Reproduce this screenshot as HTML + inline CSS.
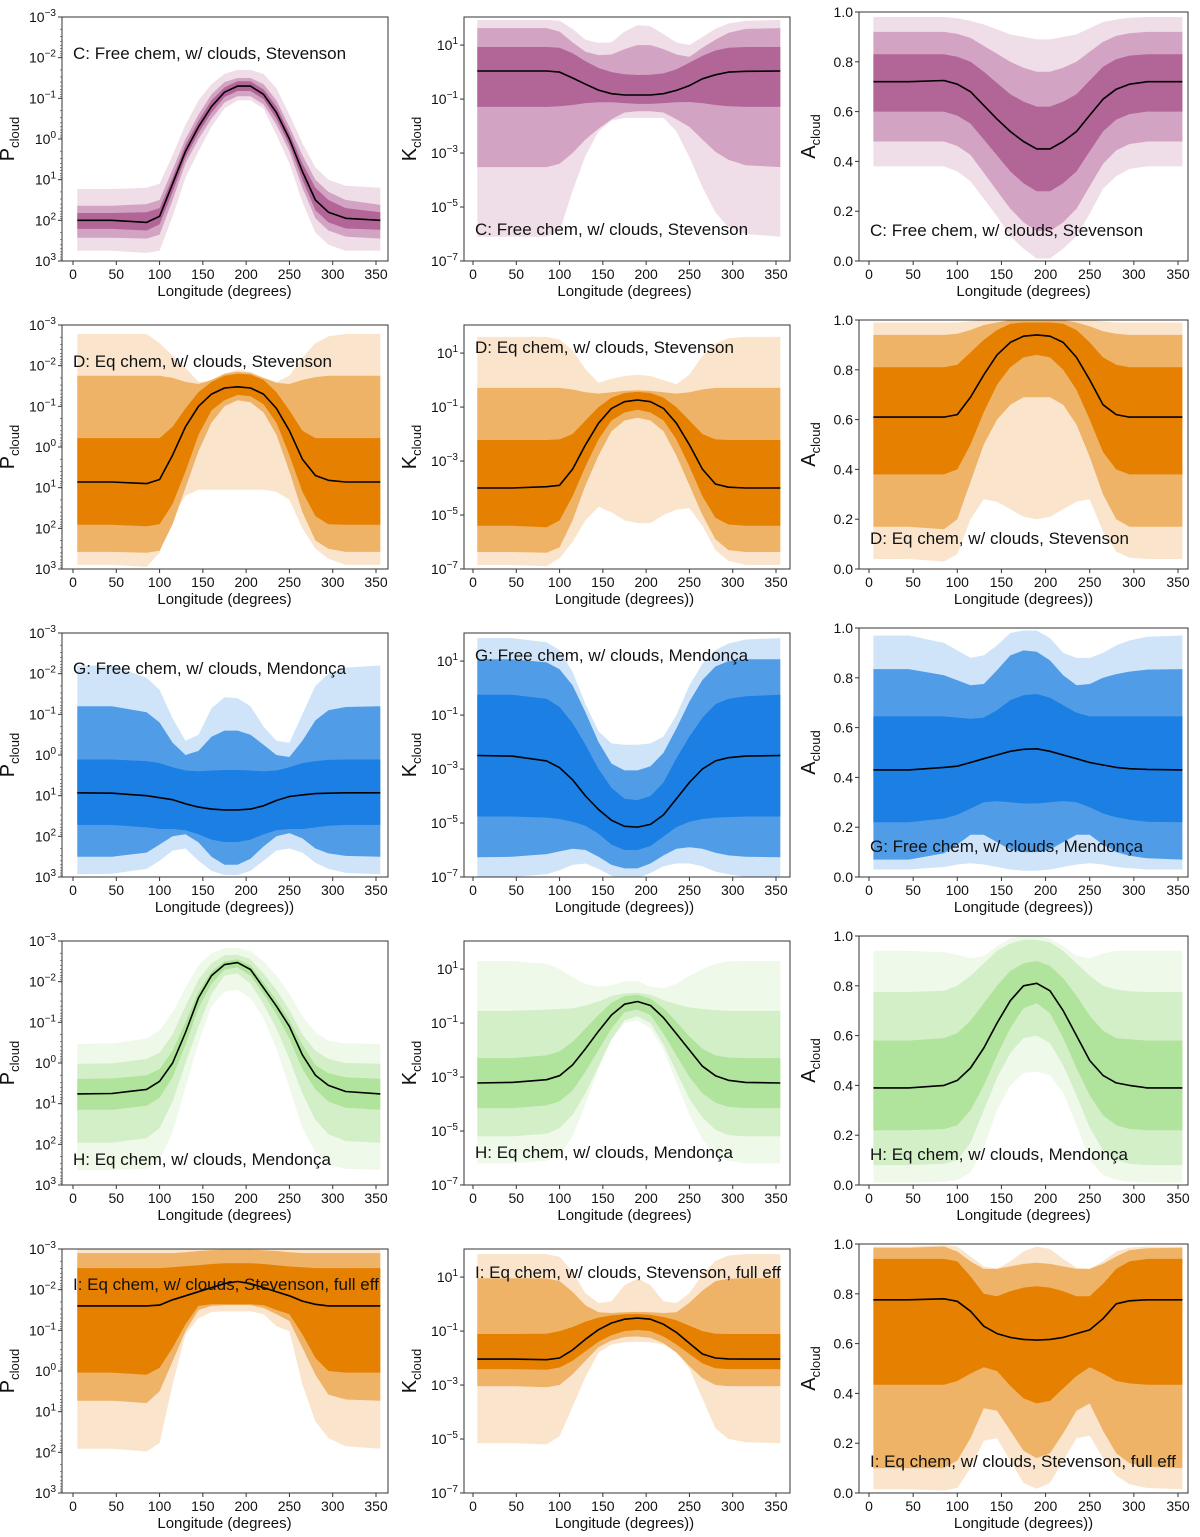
<!DOCTYPE html>
<html><head><meta charset="utf-8"><title>Cloud parameters vs longitude</title>
<style>
html,body{margin:0;padding:0;background:#fff;}
svg{display:block;font-family:"Liberation Sans","DejaVu Sans",sans-serif;}
</style></head>
<body>
<svg id="fig" width="1200" height="1537" viewBox="0 0 1200 1537" xmlns="http://www.w3.org/2000/svg"></svg>
<script>
// Longitude grid (degrees)
const LON = [5,45,85,100,115,130,145,160,175,190,205,220,235,250,265,280,295,315,355];

// ---- Panel C, P (log10 bar) ----
const C_P_med = [2.0,2.0,2.05,1.9,1.1,0.3,-0.3,-0.8,-1.15,-1.3,-1.3,-1.1,-0.65,0.0,0.8,1.5,1.8,1.95,2.0];
const C_P_d1 = [1.82,1.82,1.8,1.7,0.95,0.15,-0.45,-0.95,-1.27,-1.42,-1.42,-1.22,-0.8,-0.15,0.6,1.2,1.5,1.7,1.8];
const C_P_d2 = [2.21,2.21,2.25,2.1,1.3,0.45,-0.15,-0.65,-1.03,-1.18,-1.18,-0.98,-0.5,0.15,1.0,1.75,2.05,2.2,2.23];
const C_P_m1 = [1.64,1.64,1.6,1.5,0.75,0.0,-0.6,-1.1,-1.4,-1.5,-1.5,-1.35,-0.95,-0.3,0.4,1.0,1.3,1.5,1.62];
const C_P_m2 = [2.43,2.43,2.45,2.35,1.5,0.6,0.0,-0.5,-0.9,-1.05,-1.05,-0.85,-0.35,0.3,1.2,1.95,2.25,2.4,2.45];
const C_P_l1 = [1.23,1.23,1.2,1.1,0.4,-0.35,-0.95,-1.35,-1.6,-1.7,-1.7,-1.6,-1.25,-0.6,0.1,0.7,1.0,1.15,1.2];
const C_P_l2 = [2.75,2.75,2.8,2.75,1.9,0.95,0.3,-0.3,-0.75,-0.95,-0.95,-0.75,-0.1,0.6,1.55,2.3,2.6,2.75,2.75];
// ---- Panel C, K (log10) ----
const C_K_med = [0.04,0.04,0.04,0.0,-0.22,-0.45,-0.67,-0.8,-0.85,-0.85,-0.85,-0.8,-0.68,-0.5,-0.25,-0.1,0.0,0.03,0.04];
const C_K_d1 = [0.93,0.93,0.93,0.9,0.7,0.4,0.15,0.0,-0.08,-0.11,-0.1,-0.05,0.1,0.35,0.6,0.8,0.9,0.93,0.93];
const C_K_d2 = [-1.29,-1.29,-1.29,-1.27,-1.22,-1.15,-1.12,-1.12,-1.15,-1.18,-1.18,-1.15,-1.12,-1.11,-1.15,-1.22,-1.27,-1.29,-1.29];
const C_K_m1 = [1.63,1.63,1.63,1.5,1.1,0.75,0.63,0.65,0.85,1.0,1.0,0.85,0.65,0.56,0.9,1.2,1.45,1.6,1.63];
const C_K_m2 = [-3.52,-3.52,-3.52,-3.4,-3.0,-2.5,-2.1,-1.75,-1.5,-1.45,-1.45,-1.5,-1.75,-2.03,-2.5,-2.95,-3.25,-3.45,-3.52];
const C_K_l1 = [1.93,1.93,1.93,1.9,1.6,1.2,1.08,1.1,1.5,1.74,1.7,1.4,1.1,1.0,1.3,1.6,1.8,1.9,1.93];
const C_K_l2 = [-6.1,-6.1,-6.1,-5.9,-4.4,-3.1,-2.2,-1.8,-1.7,-1.7,-1.7,-1.7,-2.2,-3.15,-4.26,-5.2,-5.75,-6.0,-6.1];
// ---- Panel C, A ----
const C_A_med = [0.72,0.72,0.725,0.71,0.68,0.625,0.57,0.52,0.48,0.45,0.45,0.48,0.52,0.585,0.65,0.69,0.71,0.72,0.72];
const C_A_d1 = [0.83,0.83,0.83,0.82,0.8,0.76,0.715,0.67,0.64,0.62,0.62,0.64,0.67,0.725,0.78,0.81,0.825,0.83,0.83];
const C_A_d2 = [0.6,0.6,0.6,0.584,0.552,0.488,0.424,0.36,0.312,0.28,0.28,0.312,0.36,0.44,0.52,0.568,0.59,0.6,0.6];
const C_A_m1 = [0.92,0.92,0.92,0.912,0.896,0.864,0.832,0.8,0.776,0.76,0.76,0.776,0.8,0.84,0.88,0.904,0.915,0.92,0.92];
const C_A_m2 = [0.48,0.48,0.48,0.462,0.426,0.354,0.282,0.21,0.156,0.12,0.12,0.156,0.21,0.3,0.39,0.444,0.47,0.48,0.48];
const C_A_l1 = [0.98,0.98,0.98,0.975,0.965,0.95,0.93,0.91,0.9,0.89,0.89,0.9,0.91,0.935,0.96,0.97,0.977,0.98,0.98];
const C_A_l2 = [0.38,0.38,0.38,0.36,0.32,0.25,0.18,0.1,0.05,0.01,0.01,0.05,0.1,0.19,0.29,0.34,0.37,0.38,0.38];
// ---- Panel D, P ----
const D_P_med = [0.86,0.86,0.9,0.8,0.2,-0.5,-1.0,-1.3,-1.45,-1.48,-1.45,-1.3,-0.95,-0.4,0.3,0.7,0.82,0.86,0.86];
const D_P_d1 = [-0.22,-0.22,-0.22,-0.22,-0.5,-0.95,-1.35,-1.6,-1.75,-1.8,-1.78,-1.65,-1.35,-0.9,-0.4,-0.22,-0.22,-0.22,-0.22];
const D_P_d2 = [1.91,1.91,1.95,1.9,1.4,0.6,-0.3,-0.9,-1.15,-1.28,-1.25,-1.05,-0.6,0.2,1.1,1.7,1.9,1.91,1.91];
const D_P_m1 = [-1.75,-1.75,-1.75,-1.75,-1.7,-1.6,-1.55,-1.65,-1.8,-1.85,-1.82,-1.7,-1.58,-1.55,-1.65,-1.72,-1.75,-1.75,-1.75];
const D_P_m2 = [2.58,2.58,2.6,2.55,1.9,1.0,0.1,-0.6,-1.0,-1.15,-1.1,-0.85,-0.3,0.6,1.6,2.3,2.5,2.58,2.58];
const D_P_l1 = [-2.78,-2.78,-2.78,-2.55,-2.25,-1.95,-1.6,-1.6,-1.8,-1.9,-1.85,-1.7,-1.6,-1.75,-2.2,-2.55,-2.72,-2.78,-2.78];
const D_P_l2 = [2.9,2.9,2.95,2.6,1.7,1.2,1.05,1.05,1.05,1.05,1.05,1.05,1.1,1.3,2.0,2.5,2.75,2.9,2.9];
// ---- Panel D, K ----
const D_K_med = [-4,-4,-3.95,-3.9,-3.3,-2.4,-1.6,-1.05,-0.8,-0.74,-0.8,-1.05,-1.6,-2.4,-3.3,-3.85,-3.97,-4,-4];
const D_K_d1 = [-2.22,-2.22,-2.22,-2.2,-2.0,-1.5,-1.0,-0.65,-0.48,-0.44,-0.48,-0.65,-1.0,-1.5,-2.0,-2.2,-2.22,-2.22,-2.22];
const D_K_d2 = [-5.4,-5.4,-5.45,-5.2,-4.3,-3.2,-2.2,-1.5,-1.2,-1.1,-1.2,-1.5,-2.2,-3.2,-4.3,-5.1,-5.35,-5.4,-5.4];
const D_K_m1 = [-0.29,-0.29,-0.29,-0.29,-0.35,-0.45,-0.5,-0.45,-0.4,-0.38,-0.4,-0.45,-0.5,-0.45,-0.35,-0.29,-0.29,-0.29,-0.29];
const D_K_m2 = [-6.37,-6.37,-6.4,-6.2,-5.2,-3.9,-2.8,-1.9,-1.5,-1.4,-1.5,-1.9,-2.8,-3.9,-5.0,-5.9,-6.3,-6.37,-6.37];
const D_K_l1 = [1.6,1.6,1.6,1.5,1.1,0.4,-0.1,0.05,0.15,0.2,0.15,0.0,-0.15,0.2,0.9,1.35,1.55,1.6,1.6];
const D_K_l2 = [-6.85,-6.85,-6.9,-6.6,-6.0,-5.2,-4.7,-4.9,-5.2,-5.3,-5.3,-5.0,-4.8,-4.75,-5.4,-6.3,-6.7,-6.85,-6.85];
// ---- Panel D, A ----
const D_A_med = [0.61,0.61,0.61,0.62,0.69,0.78,0.86,0.91,0.935,0.94,0.935,0.91,0.85,0.76,0.66,0.62,0.61,0.61,0.61];
const D_A_d1 = [0.81,0.81,0.81,0.82,0.87,0.92,0.96,0.985,0.99,0.99,0.99,0.985,0.96,0.91,0.85,0.82,0.81,0.81,0.81];
const D_A_d2 = [0.38,0.38,0.38,0.4,0.5,0.63,0.74,0.81,0.85,0.86,0.85,0.8,0.72,0.6,0.47,0.4,0.38,0.38,0.38];
const D_A_m1 = [0.94,0.94,0.94,0.945,0.96,0.98,0.99,1,1,1,1,1,0.99,0.975,0.955,0.945,0.94,0.94,0.94];
const D_A_m2 = [0.17,0.17,0.16,0.2,0.35,0.5,0.6,0.66,0.69,0.69,0.69,0.66,0.58,0.45,0.3,0.2,0.17,0.17,0.17];
const D_A_l1 = [0.99,0.99,0.99,0.99,0.995,1,1,1,1,1,1,1,1,1,0.995,0.99,0.99,0.99,0.99];
const D_A_l2 = [0.04,0.04,0.03,0.06,0.2,0.28,0.27,0.24,0.21,0.2,0.21,0.24,0.27,0.28,0.15,0.07,0.045,0.04,0.04];
// ---- Panel G, P ----
const G_P_med = [0.93,0.94,1.0,1.05,1.1,1.2,1.28,1.33,1.35,1.35,1.33,1.25,1.12,1.02,0.98,0.95,0.94,0.93,0.93];
const G_P_d1 = [0.11,0.11,0.15,0.2,0.3,0.38,0.4,0.38,0.37,0.37,0.38,0.4,0.38,0.3,0.2,0.15,0.12,0.11,0.11];
const G_P_d2 = [1.72,1.72,1.78,1.82,1.82,1.85,1.95,2.08,2.14,2.14,2.08,1.95,1.85,1.82,1.82,1.78,1.74,1.72,1.72];
const G_P_m1 = [-1.2,-1.2,-1.05,-0.8,-0.3,0.0,-0.1,-0.45,-0.6,-0.6,-0.5,-0.25,0.0,0.05,-0.35,-0.85,-1.1,-1.18,-1.2];
const G_P_m2 = [2.5,2.5,2.4,2.2,2.0,1.95,2.15,2.5,2.7,2.7,2.55,2.25,2.0,1.92,2.05,2.3,2.42,2.48,2.5];
const G_P_l1 = [-2.2,-2.2,-1.9,-1.6,-0.9,-0.35,-0.5,-1.15,-1.42,-1.4,-1.2,-0.7,-0.35,-0.3,-1.0,-1.7,-2.0,-2.15,-2.2];
const G_P_l2 = [2.93,2.92,2.8,2.6,2.35,2.3,2.6,2.85,2.95,2.95,2.85,2.6,2.35,2.3,2.4,2.65,2.8,2.9,2.93];
// ---- Panel G, K ----
const G_K_med = [-2.5,-2.52,-2.7,-2.95,-3.4,-4.0,-4.5,-4.9,-5.12,-5.15,-5.05,-4.7,-4.1,-3.5,-3.0,-2.7,-2.58,-2.52,-2.5];
const G_K_d1 = [-0.25,-0.25,-0.4,-0.7,-1.3,-2.1,-3.0,-3.7,-4.1,-4.15,-4.0,-3.5,-2.6,-1.8,-1.1,-0.6,-0.4,-0.3,-0.25];
const G_K_d2 = [-4.76,-4.76,-4.8,-4.85,-4.95,-5.1,-5.4,-5.8,-6.0,-6.0,-5.85,-5.5,-5.15,-4.95,-4.85,-4.8,-4.78,-4.76,-4.76];
const G_K_m1 = [1.07,1.07,0.95,0.7,0.1,-0.9,-2.0,-2.8,-3.05,-3.05,-2.9,-2.4,-1.5,-0.5,0.3,0.8,1.0,1.07,1.07];
const G_K_m2 = [-6.27,-6.25,-6.15,-6.05,-5.95,-6.0,-6.25,-6.55,-6.68,-6.68,-6.5,-6.2,-5.95,-5.9,-5.95,-6.1,-6.2,-6.25,-6.27];
const G_K_l1 = [1.85,1.85,1.7,1.4,0.6,-0.6,-1.6,-2.05,-2.1,-2.1,-2.05,-1.8,-1.0,0.1,0.9,1.4,1.65,1.8,1.85];
const G_K_l2 = [-7,-7,-6.9,-6.75,-6.55,-6.5,-6.7,-6.95,-7.1,-7.05,-6.85,-6.6,-6.5,-6.5,-6.6,-6.8,-6.9,-7,-7];
// ---- Panel G, A ----
const G_A_med = [0.43,0.43,0.44,0.445,0.46,0.475,0.49,0.505,0.513,0.515,0.505,0.49,0.475,0.46,0.45,0.44,0.435,0.432,0.43];
const G_A_d1 = [0.645,0.645,0.645,0.64,0.635,0.64,0.67,0.71,0.73,0.735,0.72,0.69,0.66,0.645,0.645,0.645,0.645,0.645,0.645];
const G_A_d2 = [0.22,0.22,0.235,0.25,0.275,0.3,0.305,0.3,0.295,0.295,0.3,0.305,0.3,0.28,0.255,0.24,0.23,0.222,0.22];
const G_A_m1 = [0.835,0.835,0.81,0.79,0.77,0.775,0.83,0.89,0.91,0.905,0.87,0.81,0.77,0.775,0.8,0.815,0.825,0.833,0.835];
const G_A_m2 = [0.07,0.07,0.095,0.13,0.17,0.17,0.14,0.11,0.1,0.1,0.11,0.14,0.17,0.17,0.13,0.1,0.085,0.075,0.07];
const G_A_l1 = [0.97,0.97,0.94,0.91,0.88,0.89,0.93,0.98,0.99,0.99,0.96,0.9,0.88,0.88,0.9,0.93,0.95,0.965,0.97];
const G_A_l2 = [0.03,0.03,0.04,0.05,0.055,0.05,0.04,0.03,0.025,0.025,0.03,0.04,0.05,0.055,0.05,0.04,0.035,0.03,0.03];
// ---- Panel H, P ----
const H_P_med = [0.76,0.75,0.65,0.45,0.0,-0.75,-1.6,-2.15,-2.42,-2.47,-2.3,-1.85,-1.4,-0.9,-0.2,0.3,0.55,0.7,0.76];
const H_P_d1 = [0.39,0.38,0.3,0.15,-0.3,-1.0,-1.75,-2.25,-2.5,-2.55,-2.4,-1.98,-1.55,-1.05,-0.45,0.05,0.25,0.35,0.39];
const H_P_d2 = [1.15,1.15,1.05,0.85,0.35,-0.45,-1.35,-1.95,-2.3,-2.35,-2.15,-1.7,-1.2,-0.6,0.15,0.65,0.95,1.1,1.15];
const H_P_m1 = [0.02,0.01,-0.1,-0.25,-0.7,-1.4,-2.05,-2.45,-2.65,-2.66,-2.55,-2.2,-1.8,-1.3,-0.7,-0.3,-0.1,0.0,0.02];
const H_P_m2 = [1.96,1.96,1.85,1.6,0.95,0.0,-0.9,-1.7,-2.15,-2.2,-1.95,-1.45,-0.85,-0.1,0.75,1.4,1.75,1.92,1.96];
const H_P_l1 = [-0.47,-0.48,-0.6,-0.8,-1.25,-1.85,-2.4,-2.7,-2.82,-2.83,-2.75,-2.5,-2.15,-1.7,-1.15,-0.75,-0.55,-0.48,-0.47];
const H_P_l2 = [2.63,2.63,2.6,2.4,1.7,0.6,-0.5,-1.4,-1.75,-1.8,-1.6,-1.1,-0.35,0.6,1.6,2.2,2.5,2.6,2.63];
// ---- Panel H, K ----
const H_K_med = [-3.22,-3.2,-3.1,-2.95,-2.55,-1.95,-1.3,-0.7,-0.3,-0.2,-0.35,-0.8,-1.4,-2.0,-2.6,-2.95,-3.12,-3.2,-3.22];
const H_K_d1 = [-2.3,-2.3,-2.2,-2.05,-1.7,-1.2,-0.7,-0.25,0.0,0.05,-0.1,-0.45,-0.95,-1.5,-1.95,-2.2,-2.28,-2.3,-2.3];
const H_K_d2 = [-4.15,-4.15,-4.05,-3.9,-3.5,-2.8,-2.0,-1.2,-0.6,-0.5,-0.7,-1.4,-2.2,-3.0,-3.6,-3.95,-4.1,-4.15,-4.15];
const H_K_m1 = [-0.55,-0.55,-0.5,-0.48,-0.45,-0.35,-0.2,0.0,0.1,0.12,0.05,-0.15,-0.3,-0.42,-0.48,-0.52,-0.55,-0.55,-0.55];
const H_K_m2 = [-5.2,-5.2,-5.1,-4.9,-4.4,-3.6,-2.6,-1.6,-0.9,-0.75,-1.0,-1.8,-2.8,-3.8,-4.5,-4.95,-5.15,-5.2,-5.2];
const H_K_l1 = [1.3,1.3,1.2,1.0,0.7,0.45,0.35,0.4,0.55,0.55,0.35,0.3,0.45,0.75,1.0,1.2,1.28,1.3,1.3];
const H_K_l2 = [-6.2,-6.2,-6.1,-5.9,-5.2,-4.0,-2.7,-1.6,-1.0,-0.9,-1.2,-2.0,-3.2,-4.4,-5.3,-5.9,-6.1,-6.2,-6.2];
// ---- Panel H, A ----
const H_A_med = [0.39,0.39,0.4,0.42,0.47,0.55,0.65,0.74,0.8,0.81,0.78,0.7,0.6,0.5,0.44,0.41,0.4,0.39,0.39];
const H_A_d1 = [0.58,0.58,0.59,0.61,0.66,0.73,0.8,0.86,0.89,0.9,0.88,0.83,0.76,0.68,0.62,0.59,0.585,0.58,0.58];
const H_A_d2 = [0.22,0.22,0.225,0.24,0.3,0.4,0.52,0.63,0.71,0.73,0.69,0.59,0.47,0.36,0.28,0.24,0.225,0.22,0.22];
const H_A_m1 = [0.775,0.775,0.78,0.8,0.84,0.89,0.94,0.97,0.985,0.985,0.975,0.94,0.89,0.84,0.8,0.785,0.778,0.775,0.775];
const H_A_m2 = [0.08,0.08,0.085,0.1,0.17,0.3,0.43,0.53,0.59,0.6,0.57,0.48,0.36,0.23,0.14,0.1,0.085,0.08,0.08];
const H_A_l1 = [0.94,0.94,0.935,0.925,0.91,0.92,0.96,0.99,1,1,0.99,0.96,0.92,0.91,0.93,0.94,0.94,0.94,0.94];
const H_A_l2 = [0.01,0.01,0.012,0.02,0.05,0.15,0.3,0.4,0.45,0.455,0.44,0.37,0.24,0.1,0.04,0.02,0.012,0.01,0.01];
// ---- Panel I, P ----
const I_P_med = [-1.6,-1.6,-1.6,-1.62,-1.75,-1.85,-1.95,-2.05,-2.15,-2.2,-2.15,-2.05,-1.95,-1.85,-1.72,-1.64,-1.6,-1.6,-1.6];
const I_P_d1 = [-2.53,-2.53,-2.53,-2.53,-2.55,-2.58,-2.6,-2.63,-2.65,-2.65,-2.65,-2.63,-2.6,-2.57,-2.55,-2.53,-2.53,-2.53,-2.53];
const I_P_d2 = [0.04,0.04,0.09,-0.08,-0.57,-1.15,-1.6,-1.64,-1.64,-1.64,-1.64,-1.62,-1.5,-1.4,-0.9,-0.32,0.0,0.04,0.04];
const I_P_m1 = [-2.9,-2.9,-2.9,-2.9,-2.9,-2.92,-2.95,-2.97,-2.98,-2.98,-2.98,-2.97,-2.95,-2.92,-2.9,-2.9,-2.9,-2.9,-2.9];
const I_P_m2 = [0.73,0.73,0.79,0.5,-0.24,-0.98,-1.5,-1.6,-1.62,-1.62,-1.62,-1.55,-1.4,-1.23,-0.57,0.09,0.58,0.7,0.73];
const I_P_l1 = [-3,-3,-3,-3,-3,-3,-3,-3,-3,-3,-3,-3,-3,-3,-3,-3,-3,-3,-3];
const I_P_l2 = [1.91,1.91,1.98,1.77,0.33,-0.9,-1.3,-1.45,-1.47,-1.47,-1.47,-1.4,-1.1,-0.98,0.33,1.24,1.65,1.85,1.91];
// ---- Panel I, K ----
const I_K_med = [-2.04,-2.04,-2.06,-2.0,-1.7,-1.3,-0.95,-0.7,-0.56,-0.52,-0.56,-0.75,-1.05,-1.45,-1.85,-2.0,-2.03,-2.04,-2.04];
const I_K_d1 = [-1.11,-1.11,-1.1,-1.0,-0.85,-0.65,-0.5,-0.42,-0.38,-0.37,-0.4,-0.48,-0.6,-0.8,-1.0,-1.1,-1.11,-1.11,-1.11];
const I_K_d2 = [-2.41,-2.41,-2.43,-2.35,-2.1,-1.75,-1.4,-1.15,-1.0,-0.96,-1.0,-1.2,-1.5,-1.85,-2.2,-2.38,-2.41,-2.41,-2.41];
const I_K_m1 = [0.96,0.96,0.95,0.85,0.45,-0.05,-0.3,-0.33,-0.3,-0.29,-0.3,-0.33,-0.3,0.05,0.5,0.85,0.94,0.96,0.96];
const I_K_m2 = [-3.04,-3.04,-3.08,-3.0,-2.6,-2.1,-1.6,-1.35,-1.22,-1.2,-1.25,-1.45,-1.8,-2.3,-2.75,-3.0,-3.04,-3.04,-3.04];
const I_K_l1 = [1.85,1.85,1.85,1.75,1.2,0.4,0.04,0.1,0.7,0.95,0.7,0.1,0.04,0.4,1.1,1.6,1.8,1.85,1.85];
const I_K_l2 = [-5.15,-5.15,-5.2,-4.9,-3.8,-2.7,-1.8,-1.5,-1.42,-1.4,-1.42,-1.5,-1.75,-2.4,-3.5,-4.6,-5.0,-5.12,-5.15];
// ---- Panel I, A ----
const I_A_med = [0.776,0.776,0.78,0.77,0.73,0.67,0.64,0.625,0.617,0.614,0.617,0.625,0.64,0.655,0.7,0.76,0.772,0.776,0.776];
const I_A_d1 = [0.94,0.94,0.94,0.93,0.87,0.8,0.79,0.81,0.825,0.83,0.825,0.81,0.79,0.79,0.84,0.9,0.93,0.94,0.94];
const I_A_d2 = [0.435,0.435,0.435,0.45,0.48,0.505,0.49,0.43,0.38,0.36,0.37,0.42,0.47,0.505,0.48,0.45,0.44,0.435,0.435];
const I_A_m1 = [0.985,0.985,0.99,0.97,0.93,0.9,0.9,0.91,0.92,0.925,0.92,0.91,0.9,0.9,0.92,0.95,0.975,0.983,0.985];
const I_A_m2 = [0.1,0.1,0.1,0.13,0.22,0.34,0.33,0.25,0.17,0.14,0.16,0.24,0.33,0.36,0.25,0.16,0.12,0.105,0.1];
const I_A_l1 = [0.99,0.99,0.995,0.99,0.95,0.91,0.9,0.93,0.97,0.99,0.98,0.94,0.905,0.9,0.93,0.97,0.985,0.99,0.99];
const I_A_l2 = [0.015,0.015,0.01,0.02,0.1,0.21,0.22,0.13,0.04,0.017,0.04,0.13,0.22,0.23,0.14,0.07,0.035,0.02,0.015];

// Tick labels
const X_TICKS = [0,50,100,150,200,250,300,350];
const P_TICK_EXP = [-3,-2,-1,0,1,2,3];
const K_TICK_EXP = [1,-1,-3,-5,-7];
const A_TICKS = [0.0,0.2,0.4,0.6,0.8,1.0];

const PAL = {
  purple:['#efdde8','#d3a3c3','#b26597'],
  orange:['#fae5cc','#eeb366','#e68000'],
  blue:['#cfe4f8','#519ce7','#1b7fe3'],
  green:['#eef9e9','#d3efc8','#b0e39b']
};

const panels = [
 {id:'c-p',row:0,col:0,t:'P',pal:'purple',lab:'C: Free chem, w/ clouds, Stevenson',ly:59,xl:'Longitude (degrees)',d:[C_P_med,C_P_d1,C_P_d2,C_P_m1,C_P_m2,C_P_l1,C_P_l2]},
 {id:'c-k',row:0,col:1,t:'K',pal:'purple',lab:'C: Free chem, w/ clouds, Stevenson',ly:235,xl:'Longitude (degrees)',d:[C_K_med,C_K_d1,C_K_d2,C_K_m1,C_K_m2,C_K_l1,C_K_l2]},
 {id:'c-a',row:0,col:2,t:'A',pal:'purple',lab:'C: Free chem, w/ clouds, Stevenson',ly:236,xl:'Longitude (degrees)',d:[C_A_med,C_A_d1,C_A_d2,C_A_m1,C_A_m2,C_A_l1,C_A_l2]},
 {id:'d-p',row:1,col:0,t:'P',pal:'orange',lab:'D: Eq chem, w/ clouds, Stevenson',ly:367,xl:'Longitude (degrees)',d:[D_P_med,D_P_d1,D_P_d2,D_P_m1,D_P_m2,D_P_l1,D_P_l2]},
 {id:'d-k',row:1,col:1,t:'K',pal:'orange',lab:'D: Eq chem, w/ clouds, Stevenson',ly:353,xl:'Longitude (degrees))',d:[D_K_med,D_K_d1,D_K_d2,D_K_m1,D_K_m2,D_K_l1,D_K_l2]},
 {id:'d-a',row:1,col:2,t:'A',pal:'orange',lab:'D: Eq chem, w/ clouds, Stevenson',ly:544,xl:'Longitude (degrees))',d:[D_A_med,D_A_d1,D_A_d2,D_A_m1,D_A_m2,D_A_l1,D_A_l2]},
 {id:'g-p',row:2,col:0,t:'P',pal:'blue',lab:'G: Free chem, w/ clouds, Mendonça',ly:674,xl:'Longitude (degrees))',d:[G_P_med,G_P_d1,G_P_d2,G_P_m1,G_P_m2,G_P_l1,G_P_l2]},
 {id:'g-k',row:2,col:1,t:'K',pal:'blue',lab:'G: Free chem, w/ clouds, Mendonça',ly:661,xl:'Longitude (degrees))',d:[G_K_med,G_K_d1,G_K_d2,G_K_m1,G_K_m2,G_K_l1,G_K_l2]},
 {id:'g-a',row:2,col:2,t:'A',pal:'blue',lab:'G: Free chem, w/ clouds, Mendonça',ly:852,xl:'Longitude (degrees))',d:[G_A_med,G_A_d1,G_A_d2,G_A_m1,G_A_m2,G_A_l1,G_A_l2]},
 {id:'h-p',row:3,col:0,t:'P',pal:'green',lab:'H: Eq chem, w/ clouds, Mendonça',ly:1165,xl:'Longitude (degrees)',d:[H_P_med,H_P_d1,H_P_d2,H_P_m1,H_P_m2,H_P_l1,H_P_l2]},
 {id:'h-k',row:3,col:1,t:'K',pal:'green',lab:'H: Eq chem, w/ clouds, Mendonça',ly:1158,xl:'Longitude (degrees)',d:[H_K_med,H_K_d1,H_K_d2,H_K_m1,H_K_m2,H_K_l1,H_K_l2]},
 {id:'h-a',row:3,col:2,t:'A',pal:'green',lab:'H: Eq chem, w/ clouds, Mendonça',ly:1160,xl:'Longitude (degrees)',d:[H_A_med,H_A_d1,H_A_d2,H_A_m1,H_A_m2,H_A_l1,H_A_l2]},
 {id:'i-p',row:4,col:0,t:'P',pal:'orange',lab:'I: Eq chem, w/ clouds, Stevenson, full eff',ly:1290,xl:'Longitude (degrees)',d:[I_P_med,I_P_d1,I_P_d2,I_P_m1,I_P_m2,I_P_l1,I_P_l2]},
 {id:'i-k',row:4,col:1,t:'K',pal:'orange',lab:'I: Eq chem, w/ clouds, Stevenson, full eff',ly:1278,xl:'Longitude (degrees))',d:[I_K_med,I_K_d1,I_K_d2,I_K_m1,I_K_m2,I_K_l1,I_K_l2]},
 {id:'i-a',row:4,col:2,t:'A',pal:'orange',lab:'I: Eq chem, w/ clouds, Stevenson, full eff',ly:1467,xl:'Longitude (degrees))',d:[I_A_med,I_A_d1,I_A_d2,I_A_m1,I_A_m2,I_A_l1,I_A_l2]}
];

const NS = 'http://www.w3.org/2000/svg';
const fig = document.getElementById('fig');
function mk(tag, attrs, parent){
  const e = document.createElementNS(NS, tag);
  for (const k in attrs) e.setAttribute(k, attrs[k]);
  (parent||fig).appendChild(e);
  return e;
}
const COLS = [
  {fx0:62, fx1:388, x0:73, x350:376, lab:73},
  {fx0:464, fx1:790, x0:473, x350:776, lab:475},
  {fx0:859, fx1:1188, x0:869, x350:1178, lab:870}
];

panels.forEach(function(p){
  const c = COLS[p.col];
  const top = (p.col===2 ? 12 : 17) + p.row*308;
  const bot = 261 + p.row*308;
  const xs = function(lon){ return c.x0 + lon*(c.x350-c.x0)/350; };
  let ys;
  if (p.t==='P') ys = function(v){ return top + (v+3)/6*(bot-top); };
  else if (p.t==='K') ys = function(v){ return bot - (v+7)/9.04*(bot-top); };
  else ys = function(v){ return bot - v*(bot-top); };

  const g = mk('g', {});
  
  
  const cp = mk('clipPath', {id:'clip-'+p.id}, g);
  mk('rect', {x:c.fx0, y:top, width:c.fx1-c.fx0, height:bot-top}, cp);
  const plot = mk('g', {'clip-path':'url(#clip-'+p.id+')'}, g);
  
  

  const cols = PAL[p.pal];
  const bands = [[5,6,0,'band-3sigma'],[3,4,1,'band-2sigma'],[1,2,2,'band-1sigma']];
  bands.forEach(function(b){
    const a = p.d[b[0]], z = p.d[b[1]];
    let pts = [];
    for (let i=0;i<LON.length;i++) pts.push(xs(LON[i]).toFixed(1)+','+ys(a[i]).toFixed(1));
    for (let i=LON.length-1;i>=0;i--) pts.push(xs(LON[i]).toFixed(1)+','+ys(z[i]).toFixed(1));
    const poly = mk('polygon', {points:pts.join(' '), fill:cols[b[2]], stroke:'none'}, plot);
    
    
  });
  let mp = [];
  for (let i=0;i<LON.length;i++) mp.push(xs(LON[i]).toFixed(1)+','+ys(p.d[0][i]).toFixed(1));
  const line = mk('polyline', {points:mp.join(' '), fill:'none', stroke:'#000', 'stroke-width':1.6, 'stroke-linejoin':'round'}, plot);
  
  

  const fr = mk('rect', {x:c.fx0, y:top, width:c.fx1-c.fx0, height:bot-top, fill:'none', stroke:'#333', 'stroke-width':1}, g);
  
  

  X_TICKS.forEach(function(t){
    const x = xs(t);
    mk('line', {x1:x, x2:x, y1:bot, y2:bot+4, stroke:'#333', 'stroke-width':1}, g);
    const tl = mk('text', {x:x, y:bot+18, 'text-anchor':'middle', 'font-size':14, fill:'#111'}, g);
    tl.textContent = String(t);
    
    
  });
  const xl = mk('text', {x:(c.x0+c.x350)/2, y:bot+35, 'text-anchor':'middle', 'font-size':15, fill:'#111'}, g);
  xl.textContent = p.xl;
  
  

  const tx = c.fx0 - 6;
  if (p.t==='P' || p.t==='K'){
    const exps = p.t==='P' ? P_TICK_EXP : K_TICK_EXP;
    exps.forEach(function(e){
      const y = ys(e);
      mk('line', {x1:c.fx0-4, x2:c.fx0, y1:y, y2:y, stroke:'#333', 'stroke-width':1}, g);
      const tl = mk('text', {x:tx, y:y+5, 'text-anchor':'end', 'font-size':14, fill:'#111'}, g);
      
      
      const base = document.createElementNS(NS,'tspan'); base.textContent='10'; tl.appendChild(base);
      const sup = document.createElementNS(NS,'tspan');
      sup.setAttribute('dy','-6'); sup.setAttribute('font-size','10');
      sup.textContent = String(e).replace('-','\u2212');
      tl.appendChild(sup);
    });
    if (p.t==='P'){
      for (let e=-3;e<3;e++){
        for (let m=2;m<=9;m++){
          const y = ys(e + Math.log10(m));
          mk('line', {x1:c.fx0-2, x2:c.fx0, y1:y, y2:y, stroke:'#555', 'stroke-width':0.7}, g);
        }
      }
    }
  } else {
    A_TICKS.forEach(function(t){
      const y = ys(t);
      mk('line', {x1:c.fx0-4, x2:c.fx0, y1:y, y2:y, stroke:'#333', 'stroke-width':1}, g);
      const tl = mk('text', {x:tx, y:y+5, 'text-anchor':'end', 'font-size':14, fill:'#111'}, g);
      tl.textContent = t.toFixed(1);
      
      
    });
  }
  const yc = (top+bot)/2;
  const yx = c.fx0 - (p.t==='A' ? 44 : 48);
  const yt = mk('text', {x:0, y:0, 'text-anchor':'middle', 'font-size':20, fill:'#111', transform:'translate('+yx+','+yc+') rotate(-90)'}, g);
  
  
  const t1 = document.createElementNS(NS,'tspan'); t1.textContent = p.t; yt.appendChild(t1);
  const t2 = document.createElementNS(NS,'tspan'); t2.setAttribute('dy','5'); t2.setAttribute('font-size','13'); t2.textContent='cloud'; yt.appendChild(t2);

  const an = mk('text', {x:c.lab, y:p.ly, 'font-size':17, fill:'#111'}, g);
  an.textContent = p.lab;
  
  
});
</script>
</body></html>
